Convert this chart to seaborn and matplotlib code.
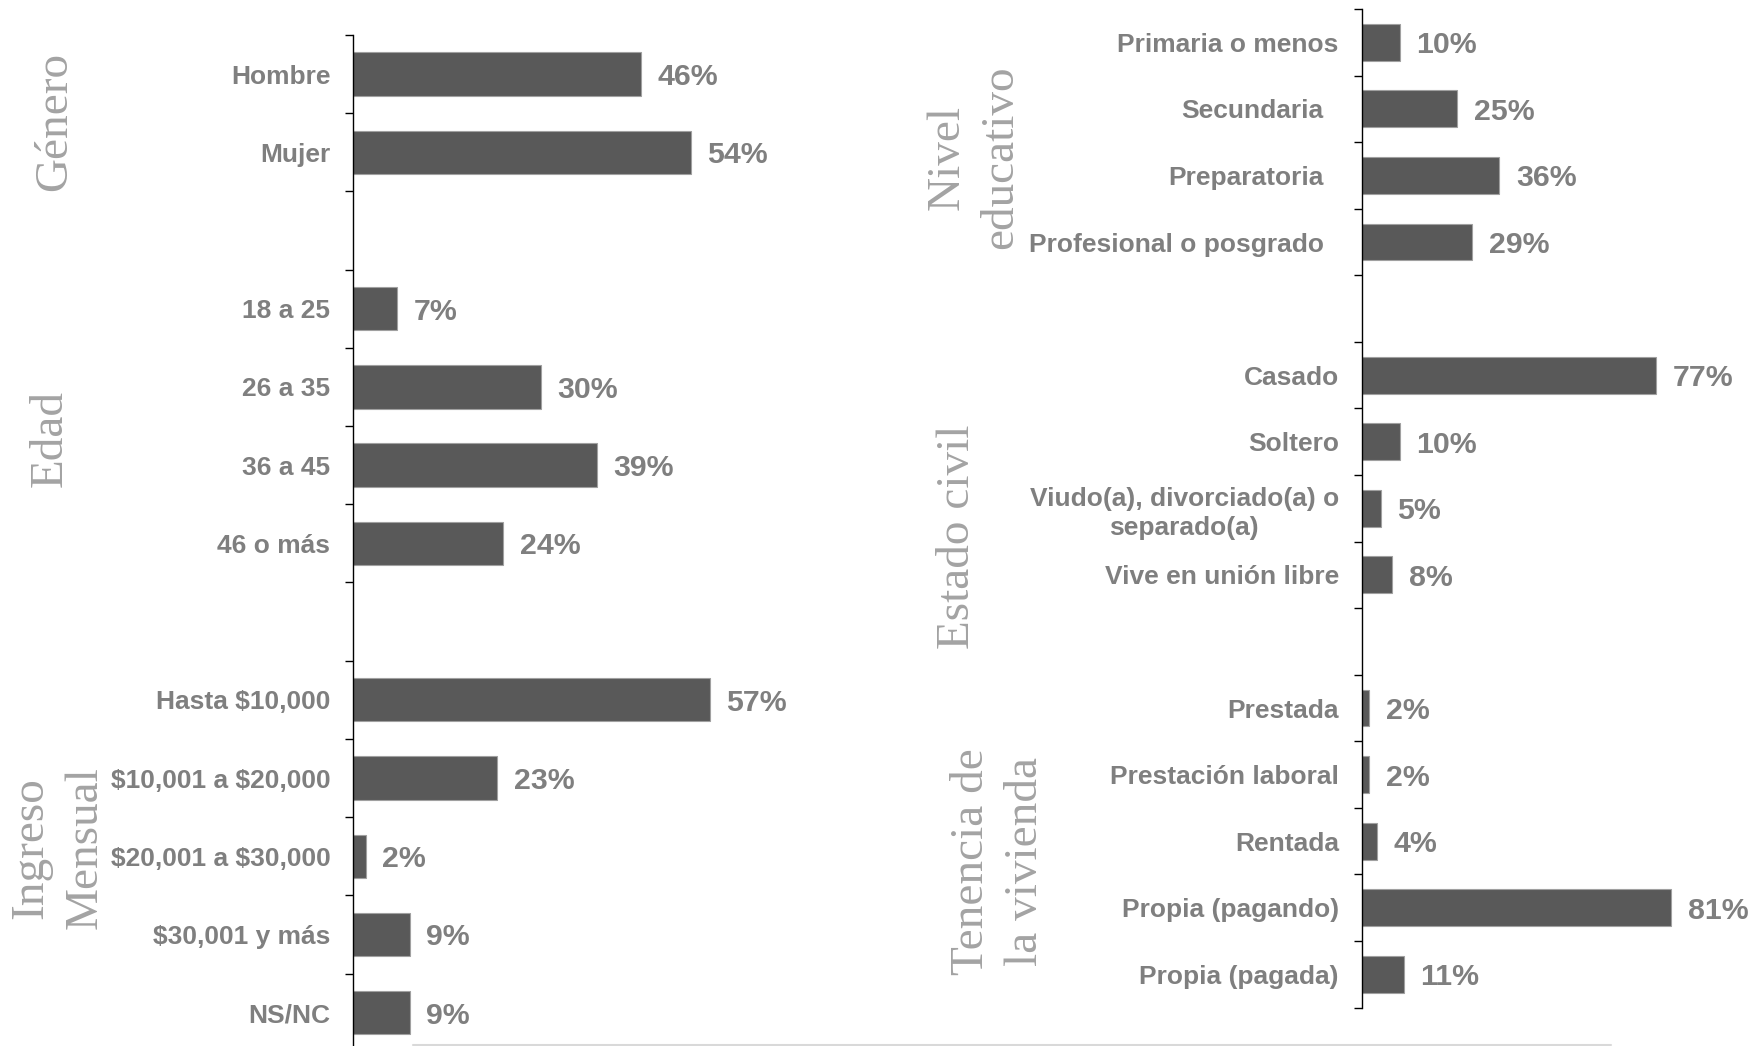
import numpy as np
import pandas as pd
import matplotlib
matplotlib.use("Agg")
import matplotlib.pyplot as plt
from matplotlib.lines import Line2D
from matplotlib.transforms import ScaledTranslation
import seaborn as sns

# ---------------- data ----------------
genero_labels = ["Hombre", "Mujer"]
genero_values = [46, 54]
edad_labels = ["18 a 25", "26 a 35", "36 a 45", "46 o más"]
edad_values = [7, 30, 39, 24]
ingreso_labels = ["Hasta $10,000", "$10,001 a $20,000", "$20,001 a $30,000",
                  "$30,001 y más", "NS/NC"]
ingreso_values = [57, 23, 2, 9, 9]

nivel_labels = ["Primaria o menos", "Secundaria", "Preparatoria",
                "Profesional o posgrado"]
nivel_values = [10, 25, 36, 29]
civil_labels = ["Casado", "Soltero", "Viudo(a), divorciado(a) o\nseparado(a)",
                "Vive en unión libre"]
civil_values = [77, 10, 5, 8]
tenencia_labels = ["Prestada", "Prestación laboral", "Rentada",
                   "Propia (pagando)", "Propia (pagada)"]
tenencia_values = [2, 2, 4, 81, 11]

left_groups = ["Género", "Edad", "Ingreso\nMensual"]
right_groups = ["Nivel\neducativo", "Estado civil", "Tenencia de\nla vivienda"]
shifted_labels = ["Secundaria", "Preparatoria", "Profesional o posgrado"]

# ---------------- style ----------------
sns.set_style("white")
plt.rcParams["font.family"] = ["Liberation Sans", "DejaVu Sans"]
plt.rcParams["text.parse_math"] = False

BAR = "#595959"
TXT = "#7f7f7f"
GRP = "#a3a3a3"
W, H = 1764, 1046
fig = plt.figure(figsize=(W / 100, H / 100), dpi=100)


def build(groups):
    cats, vals, order = [], [], []
    for gi, (labs, vs) in enumerate(groups):
        if gi > 0:
            order.append(f"__gap{gi}__")
        for l, v in zip(labs, vs):
            cats.append(l)
            vals.append(v)
            order.append(l)
    return pd.DataFrame({"categoria": cats, "valor": vals}), order


def draw(ax, groups, lab_size, val_size):
    df, order = build(groups)
    n = len(order)
    sns.barplot(data=df, x="valor", y="categoria", order=order, orient="h",
                color=BAR, saturation=1, width=0.554, ax=ax,
                edgecolor="#a0a0a0", linewidth=0.8)
    for c in ax.containers:
        labs = ax.bar_label(c, fmt="%.0f%%", padding=12.0, fontsize=val_size,
                            fontweight="bold", color=TXT)
        for t in labs:
            t.set_va("center_baseline")
    ax.set_xlim(0, 100)
    ax.set_ylim(n - 0.5, -0.5)
    ax.set_yticks(range(n))
    ax.set_yticklabels(["" if o.startswith("__gap") else o for o in order])
    ax.set_yticks(np.arange(-0.5, n), minor=True)
    ax.tick_params(axis="y", which="major", length=0, pad=16.5,
                   labelsize=lab_size, labelcolor=TXT)
    ax.tick_params(axis="y", which="minor", length=5.8, width=1.0,
                   color="black", direction="out", left=True)
    for t in ax.get_yticklabels():
        t.set_fontweight("bold")
        t.set_multialignment("center")
        t.set_linespacing(1.3)
    ax.set_xticks([])
    ax.set_xlabel("")
    ax.set_ylabel("")
    for s in ["top", "right", "bottom"]:
        ax.spines[s].set_visible(False)
    ax.spines["left"].set_color("black")
    ax.spines["left"].set_linewidth(1.0)
    ax.set_facecolor("none")
    return order


# left panel
axL = fig.add_axes([353.3 / W, (H - 1051.8) / H, 625 / W, (1051.8 - 34.9) / H])
draw(axL, [(genero_labels, genero_values), (edad_labels, edad_values),
           (ingreso_labels, ingreso_values)], 19, 21.8)

# right panel
axR = fig.add_axes([1361.7 / W, (H - 1007.6) / H, 382 / W, (1007.6 - 9.0) / H])
draw(axR, [(nivel_labels, nivel_values), (civil_labels, civil_values),
           (tenencia_labels, tenencia_values)], 19, 21.8)
for t in axR.get_yticklabels():
    if t.get_text() in shifted_labels:
        t.set_transform(t.get_transform() +
                        ScaledTranslation(-15 / 100, 0, fig.dpi_scale_trans))

# group titles (rotated, serif)
grp_pos = {"Género": (55, 121), "Edad": (50, 438), "Ingreso\nMensual": (58, 848),
           "Nivel\neducativo": (974, 157), "Estado civil": (958, 537),
           "Tenencia de\nla vivienda": (999, 862)}
for g in left_groups + right_groups:
    x, y = grp_pos[g]
    fig.text(x / W, 1 - y / H, g, rotation=90, ha="center", va="center",
             multialignment="center", fontsize=34, color=GRP,
             family=["Liberation Serif", "DejaVu Serif"], linespacing=1.35)

# faint baseline at the bottom
fig.add_artist(Line2D([413 / W, 1611 / W], [1.0 / H, 1.0 / H],
                      color="#d9d9d9", linewidth=1.5))

fig.savefig("out.png", dpi=100)
